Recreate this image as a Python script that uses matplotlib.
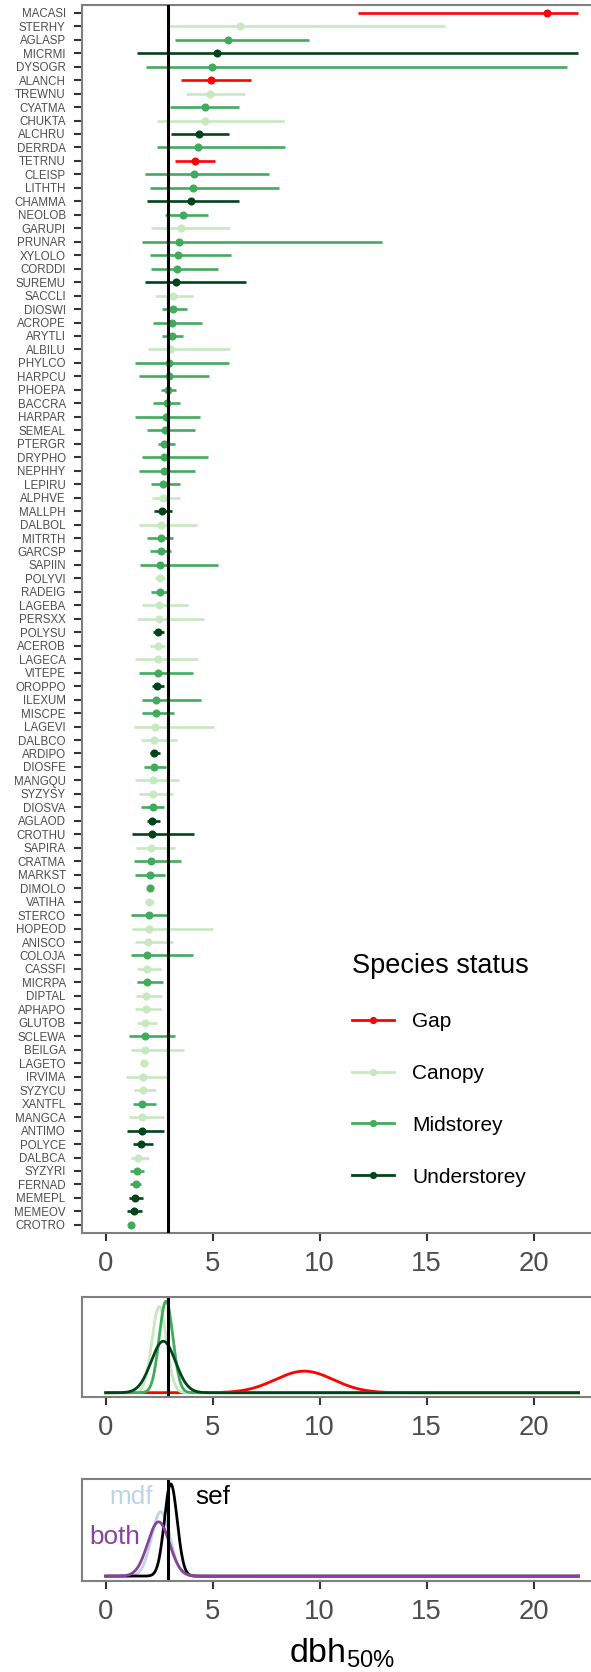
import numpy as np
import matplotlib.pyplot as plt
from matplotlib.lines import Line2D

plt.rcParams['font.family'] = ['Liberation Sans', 'DejaVu Sans']
plt.rcParams['mathtext.default'] = 'regular'

# species ordered top to bottom, with dbh50 median and interval
species = ['MACASI', 'STERHY', 'AGLASP', 'MICRMI', 'DYSOGR', 'ALANCH', 'TREWNU', 'CYATMA',
           'CHUKTA', 'ALCHRU', 'DERRDA', 'TETRNU', 'CLEISP', 'LITHTH', 'CHAMMA', 'NEOLOB',
           'GARUPI', 'PRUNAR', 'XYLOLO', 'CORDDI', 'SUREMU', 'SACCLI', 'DIOSWI', 'ACROPE',
           'ARYTLI', 'ALBILU', 'PHYLCO', 'HARPCU', 'PHOEPA', 'BACCRA', 'HARPAR', 'SEMEAL',
           'PTERGR', 'DRYPHO', 'NEPHHY', 'LEPIRU', 'ALPHVE', 'MALLPH', 'DALBOL', 'MITRTH',
           'GARCSP', 'SAPIIN', 'POLYVI', 'RADEIG', 'LAGEBA', 'PERSXX', 'POLYSU', 'ACEROB',
           'LAGECA', 'VITEPE', 'OROPPO', 'ILEXUM', 'MISCPE', 'LAGEVI', 'DALBCO', 'ARDIPO',
           'DIOSFE', 'MANGQU', 'SYZYSY', 'DIOSVA', 'AGLAOD', 'CROTHU', 'SAPIRA', 'CRATMA',
           'MARKST', 'DIMOLO', 'VATIHA', 'STERCO', 'HOPEOD', 'ANISCO', 'COLOJA', 'CASSFI',
           'MICRPA', 'DIPTAL', 'APHAPO', 'GLUTOB', 'SCLEWA', 'BEILGA', 'LAGETO', 'IRVIMA',
           'SYZYCU', 'XANTFL', 'MANGCA', 'ANTIMO', 'POLYCE', 'DALBCA', 'SYZYRI', 'FERNAD',
           'MEMEPL', 'MEMEOV', 'CROTRO']

status = ['G', 'C', 'M', 'U', 'M', 'G', 'C', 'M', 'C', 'U', 'M', 'G', 'M', 'M', 'U', 'M',
          'C', 'M', 'M', 'M', 'U', 'C', 'M', 'M', 'M', 'C', 'M', 'M', 'M', 'M', 'M', 'M',
          'M', 'M', 'M', 'M', 'C', 'U', 'C', 'M', 'M', 'M', 'C', 'M', 'C', 'C', 'U', 'C',
          'C', 'M', 'U', 'M', 'M', 'C', 'C', 'U', 'M', 'C', 'C', 'M', 'U', 'U', 'C', 'M',
          'M', 'M', 'C', 'M', 'C', 'C', 'M', 'C', 'M', 'C', 'C', 'C', 'M', 'C', 'C', 'C',
          'C', 'M', 'C', 'U', 'U', 'C', 'M', 'M', 'U', 'U', 'M']

dbh_med = [20.62, 6.28, 5.70, 5.19, 4.98, 4.90, 4.87, 4.64, 4.64, 4.36, 4.33, 4.16, 4.11,
           4.06, 3.97, 3.60, 3.52, 3.44, 3.36, 3.32, 3.28, 3.16, 3.14, 3.08, 3.08, 3.04,
           2.96, 2.94, 2.93, 2.85, 2.83, 2.77, 2.72, 2.72, 2.71, 2.69, 2.68, 2.62, 2.60,
           2.58, 2.57, 2.55, 2.54, 2.52, 2.51, 2.47, 2.46, 2.46, 2.46, 2.43, 2.41, 2.35,
           2.35, 2.30, 2.27, 2.27, 2.24, 2.23, 2.21, 2.21, 2.15, 2.15, 2.13, 2.10, 2.05,
           2.05, 2.02, 2.02, 2.01, 1.96, 1.94, 1.91, 1.91, 1.90, 1.87, 1.85, 1.84, 1.82,
           1.77, 1.76, 1.74, 1.68, 1.68, 1.68, 1.65, 1.51, 1.45, 1.40, 1.37, 1.32, 1.17]

dbh_lo = [11.79, 2.97, 3.24, 1.48, 1.88, 3.52, 3.74, 3.00, 2.40, 3.05, 2.41, 3.24, 1.85,
          2.05, 1.93, 2.77, 2.10, 1.71, 2.07, 2.12, 1.85, 2.32, 2.65, 2.21, 2.65, 1.96,
          1.38, 1.57, 2.60, 2.21, 1.37, 1.91, 2.44, 1.70, 1.57, 2.10, 2.16, 2.24, 1.54,
          1.95, 2.05, 1.62, 2.30, 2.10, 1.71, 1.46, 2.22, 2.07, 1.35, 1.56, 2.16, 1.71,
          1.71, 1.31, 1.66, 2.07, 1.79, 1.35, 1.56, 1.65, 1.93, 1.21, 1.42, 1.32, 1.37,
          2.05, 1.84, 1.20, 1.24, 1.37, 1.20, 1.45, 1.45, 1.43, 1.37, 1.46, 1.10, 1.18,
          1.60, 0.95, 1.34, 1.28, 1.09, 0.99, 1.26, 1.18, 1.12, 1.15, 1.07, 0.98, 1.17]

dbh_hi = [22.06, 15.86, 9.50, 22.06, 21.57, 6.79, 6.51, 6.21, 8.35, 5.75, 8.38, 5.12, 7.62,
          8.08, 6.21, 4.76, 5.81, 12.90, 5.84, 5.23, 6.54, 4.09, 3.81, 4.50, 3.61, 5.81,
          5.76, 4.84, 3.30, 3.46, 4.41, 4.19, 3.22, 4.78, 4.17, 3.47, 3.49, 3.11, 4.25,
          3.14, 3.05, 5.23, 2.77, 2.85, 3.83, 4.61, 2.74, 2.79, 4.31, 4.08, 2.74, 4.44,
          3.21, 5.04, 3.35, 2.55, 2.83, 3.42, 3.13, 2.72, 2.52, 4.12, 3.24, 3.52, 2.75,
          2.05, 2.26, 2.85, 4.99, 3.14, 4.08, 2.57, 2.66, 2.65, 2.57, 2.38, 3.22, 3.67,
          1.99, 2.85, 2.33, 2.33, 2.74, 2.72, 2.22, 2.01, 1.79, 1.66, 1.73, 1.68, 1.17]

ref_dbh = 2.92

# group-level distributions (mean, sd)
grp_names = ['Gap', 'Canopy', 'Midstorey', 'Understorey']
grp_mean = [9.28, 2.50, 2.82, 2.69]
grp_sd = [1.36, 0.34, 0.32, 0.57]

forest_names = ['mdf', 'sef', 'both']
forest_mean = [2.57, 3.04, 2.47]
forest_sd = [0.43, 0.30, 0.51]

status_col = {'G': '#FF0000', 'C': '#C7E9C0', 'M': '#41AB5D', 'U': '#00441B'}
grp_col = ['#FF0000', '#C7E9C0', '#41AB5D', '#00441B']
forest_col = ['#BFD3E6', '#000000', '#88419D']

spine_col = '#7F7F7F'
tick_col = '#333333'
text_col = '#4D4D4D'
xlim = (-1.094, 22.68)
xgrid = np.linspace(0, 22.1, 600)


def style_axis(ax):
    for s in ['top', 'bottom', 'left']:
        ax.spines[s].set_color(spine_col)
        ax.spines[s].set_linewidth(1.5)
    ax.spines['right'].set_visible(False)
    ax.set_xlim(*xlim)
    ax.set_xticks([0, 5, 10, 15, 20])
    ax.tick_params(axis='x', length=6, width=1.5, color=tick_col, pad=7,
                   labelsize=19.8, labelcolor=text_col)


def norm_pdf(x, m, s):
    return np.exp(-0.5 * ((x - m) / s) ** 2) / (s * np.sqrt(2 * np.pi))


fig = plt.figure(figsize=(5.91, 16.72), dpi=100)

# species intervals
ax = fig.add_axes([0.1393, 0.2626, 0.8607, 0.7346])
n = len(species)
ypos = np.arange(n, 0, -1)
for y, lo, hi, med, st in zip(ypos, dbh_lo, dbh_hi, dbh_med, status):
    c = status_col[st]
    ax.plot([lo, hi], [y, y], color=c, lw=1.9, solid_capstyle='butt', zorder=2)
    ax.plot(med, y, 'o', color=c, ms=5.8, mec='none', zorder=3)
ax.axvline(ref_dbh, color='black', lw=2.2, zorder=4)
style_axis(ax)
ax.set_ylim(0.4, n + 0.6)
ax.set_yticks(ypos)
ax.set_yticklabels(species)
ax.tick_params(axis='y', length=6, width=1.5, color=tick_col, pad=6,
               labelsize=8.3, labelcolor=text_col)

handles = [Line2D([0], [0], color=c, lw=2.0, marker='o', ms=5.2, mec='none') for c in grp_col]
leg = ax.legend(handles, grp_names, title='Species status', loc='upper left',
                bbox_to_anchor=(0.5956, 0.4300), bbox_transform=fig.transFigure,
                frameon=False, fontsize=15, title_fontsize=19.5, handlelength=2.0,
                handletextpad=0.9, labelspacing=1.58, borderpad=0, borderaxespad=0,
                alignment='left')

# status-group distributions
ax2 = fig.add_axes([0.1393, 0.1643, 0.8607, 0.0602])
top2 = 0
for m, s, c in zip(grp_mean, grp_sd, grp_col):
    d = norm_pdf(xgrid, m, s)
    top2 = max(top2, d.max())
    ax2.plot(xgrid, d, color=c, lw=2)
ax2.axvline(ref_dbh, color='black', lw=2.2)
style_axis(ax2)
ax2.set_ylim(-0.05 * top2, 1.05 * top2)
ax2.set_yticks([])

# forest-type distributions
ax3 = fig.add_axes([0.1393, 0.0546, 0.8607, 0.0606])
top3 = 0
for m, s, c in zip(forest_mean, forest_sd, forest_col):
    d = norm_pdf(xgrid, m, s)
    top3 = max(top3, d.max())
    ax3.plot(xgrid, d, color=c, lw=2)
ax3.axvline(ref_dbh, color='black', lw=2.2)
style_axis(ax3)
ax3.set_ylim(-0.05 * top3, 1.05 * top3)
ax3.set_yticks([])

lab_x = [1.2, 4.99, 0.42]
lab_y = [0.828, 0.828, 0.434]
for name, c, x, y in zip(forest_names, forest_col, lab_x, lab_y):
    ax3.text(x, y, name, color=c, fontsize=18.8, ha='center', va='center',
             transform=ax3.get_xaxis_transform())

fig.text(342 / 591, 1 - 1653 / 1672, r'dbh$_{50\%}$', fontsize=24.5,
         ha='center', va='center')

fig.savefig('out.png', dpi=100)
